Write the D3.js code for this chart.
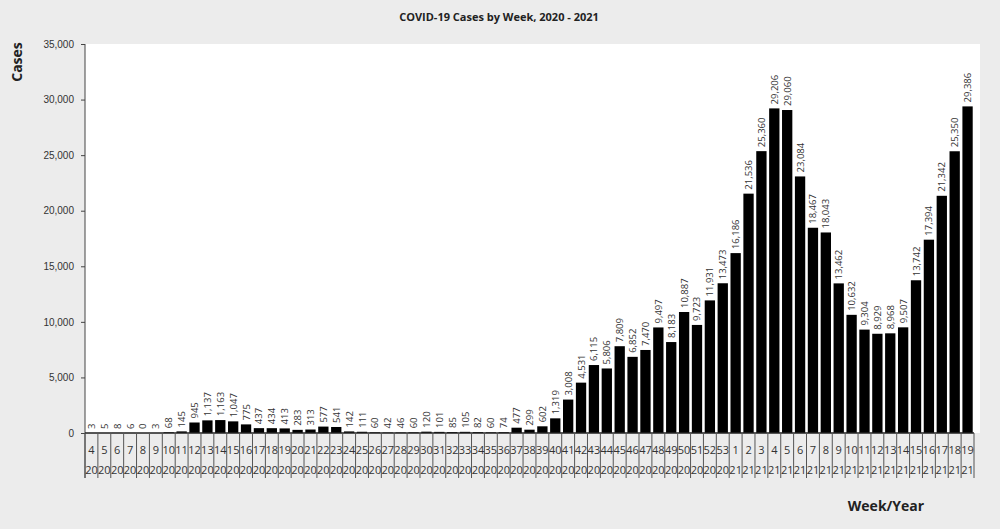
<!DOCTYPE html>
<html>
<head>
<meta charset="utf-8">
<script src="https://cdn.jsdelivr.net/npm/d3@7"></script>
<style>
  body { margin: 0; background: #ececec; }
  svg { display: block; font-family: "Open Sans", "DejaVu Sans", sans-serif; }
</style>
</head>
<body>
<svg id="chart" width="1000" height="529"></svg>
<script>
// weeks of 2020 (4..53) then 2021 (1..19)
const weeks2020 = [4,5,6,7,8,9,10,11,12,13,14,15,16,17,18,19,20,21,22,23,24,25,26,27,28,29,30,31,32,33,34,35,36,37,38,39,40,41,42,43,44,45,46,47,48,49,50,51,52,53];
const cases2020 = [3,5,8,6,0,3,68,145,945,1137,1163,1047,775,437,434,413,283,313,577,541,142,111,60,42,46,60,120,101,85,105,82,60,74,477,299,602,1319,3008,4531,6115,5806,7809,6852,7470,9497,8183,10887,9723,11931,13473];
const weeks2021 = [1,2,3,4,5,6,7,8,9,10,11,12,13,14,15,16,17,18,19];
const cases2021 = [16186,21536,25360,29206,29060,23084,18467,18043,13462,10632,9304,8929,8968,9507,13742,17394,21342,25350,29386];
const yTicks = [0,5000,10000,15000,20000,25000,30000,35000];

const data = weeks2020.map((w, i) => ({week: w, year: "20", value: cases2020[i]}))
    .concat(weeks2021.map((w, i) => ({week: w, year: "21", value: cases2021[i]})));
data.forEach((d, i) => d.key = i);

const plotLeft = 85, plotRight = 974, plotTop = 44, zeroY = 433, labelBottom = 478;

const svg = d3.select("#chart");

// plot area
svg.append("rect")
    .attr("x", plotLeft).attr("y", plotTop)
    .attr("width", plotRight - plotLeft + 6).attr("height", zeroY - plotTop)
    .attr("fill", "#fff");

const x = d3.scaleBand()
    .domain(data.map(d => d.key))
    .range([plotLeft, plotRight])
    .paddingInner(0.2)
    .paddingOuter(0.1);

const y = d3.scaleLinear()
    .domain([0, 35000])
    .range([zeroY, plotTop]);

// y axis
const yAxis = svg.append("g")
    .attr("transform", `translate(${plotLeft},0)`)
    .call(d3.axisLeft(y).tickValues(yTicks).tickSize(4).tickPadding(7).tickFormat(d3.format(",")));
yAxis.select(".domain").attr("stroke", "#444").attr("d", `M0,${plotTop}V${labelBottom}`);
yAxis.selectAll(".tick line").attr("stroke", "#444");
yAxis.selectAll("text").attr("fill", "#333").style("font-size", "10px");

// bars
svg.selectAll("rect.bar")
    .data(data)
    .enter()
    .append("rect")
    .attr("class", "bar")
    .attr("x", d => x(d.key))
    .attr("y", d => y(d.value))
    .attr("width", x.bandwidth())
    .attr("height", d => zeroY - y(d.value))
    .attr("fill", "#000");

// value labels
svg.selectAll("text.val")
    .data(data)
    .enter()
    .append("text")
    .attr("class", "val")
    .attr("transform", d => `translate(${x(d.key) + x.bandwidth() / 2 + 3.5},${y(d.value) - 4}) rotate(-90)`)
    .text(d => d3.format(",")(d.value))
    .style("font-size", "9.5px")
    .attr("fill", "#333");

// baseline
svg.append("line")
    .attr("x1", plotLeft).attr("x2", plotRight)
    .attr("y1", zeroY).attr("y2", zeroY)
    .attr("stroke", "#222").attr("stroke-width", 1.5);

// category separators and labels
const step = x.step();
const edges = data.map(d => x(d.key) - x.paddingInner() * step / 2).concat([plotRight]);
svg.selectAll("line.sep")
    .data(edges)
    .enter()
    .append("line")
    .attr("class", "sep")
    .attr("x1", d => d).attr("x2", d => d)
    .attr("y1", zeroY).attr("y2", labelBottom)
    .attr("stroke", "#555");

svg.selectAll("text.wk")
    .data(data)
    .enter()
    .append("text")
    .attr("class", "wk")
    .attr("x", d => x(d.key) + x.bandwidth() / 2)
    .attr("y", 454)
    .attr("text-anchor", "middle")
    .style("font-size", "11px")
    .attr("fill", "#333")
    .text(d => d.week);

svg.selectAll("text.yr")
    .data(data)
    .enter()
    .append("text")
    .attr("class", "yr")
    .attr("x", d => x(d.key) + x.bandwidth() / 2)
    .attr("y", 474)
    .attr("text-anchor", "middle")
    .style("font-size", "11px")
    .attr("fill", "#333")
    .text(d => d.year);

// titles
svg.append("text")
    .attr("x", 499).attr("y", 21)
    .attr("text-anchor", "middle")
    .style("font-size", "11px")
    .style("font-weight", "bold")
    .attr("fill", "#222")
    .text("COVID-19 Cases by Week, 2020 - 2021");

svg.append("text")
    .attr("transform", "translate(22,62) rotate(-90)")
    .attr("text-anchor", "middle")
    .style("font-size", "14px")
    .style("font-weight", "bold")
    .attr("fill", "#222")
    .text("Cases");

svg.append("text")
    .attr("x", 886).attr("y", 511)
    .attr("text-anchor", "middle")
    .style("font-size", "14px")
    .style("font-weight", "bold")
    .attr("fill", "#222")
    .text("Week/Year");
</script>
</body>
</html>
